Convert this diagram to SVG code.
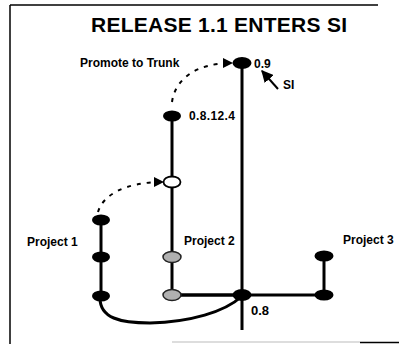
<svg xmlns="http://www.w3.org/2000/svg" width="399" height="344" viewBox="0 0 399 344">
<style>
.lbl{font-family:"Liberation Sans",Arial,sans-serif;font-weight:bold;font-size:12px;fill:#000}
.ttl{font-family:"Liberation Sans",Arial,sans-serif;font-weight:bold;font-size:21px;fill:#000}
.ln{stroke:#000;stroke-width:3;fill:none}
.dash{stroke:#000;stroke-width:2;fill:none;stroke-dasharray:4 6}
.blk{fill:#000}
.gry{fill:#b0b0b0;stroke:#222;stroke-width:1.5}
.hol{fill:#fff;stroke:#000;stroke-width:1.8}
</style>
<defs>
<marker id="ah" viewBox="0 0 10 10" refX="9" refY="5" markerWidth="6" markerHeight="5" orient="auto" markerUnits="strokeWidth">
<path d="M0,0 L10,5 L0,10 z" fill="#000"/>
</marker>
<marker id="ah2" viewBox="0 0 10 10" refX="9" refY="5" markerWidth="6" markerHeight="6" orient="auto" markerUnits="strokeWidth">
<path d="M0,0 L10,5 L0,10 z" fill="#000"/>
</marker>
</defs>
<rect width="399" height="344" fill="#fff"/>
<g id="frame">
<line x1="10" y1="5" x2="378" y2="5" stroke="#000" stroke-width="1.5"/>
<line x1="10" y1="5" x2="10" y2="344" stroke="#000" stroke-width="1.5"/>
<line x1="172" y1="342" x2="360" y2="342" stroke="#bbb" stroke-width="1"/>
<line x1="360" y1="342.5" x2="399" y2="342.5" stroke="#000" stroke-width="1.5"/>
</g>
<text class="ttl" x="219" y="32" text-anchor="middle" textLength="256">RELEASE 1.1 ENTERS SI</text>
<g id="connectors">
<line class="ln" x1="242" y1="63" x2="242" y2="330"/>
<line class="ln" x1="172" y1="116" x2="172" y2="295"/>
<line x1="172" y1="295" x2="242" y2="295" stroke="#000" stroke-width="3.5"/>
<line class="ln" x1="242" y1="295" x2="324" y2="295"/>
<line class="ln" x1="324" y1="256" x2="324" y2="295"/>
<line class="ln" x1="101" y1="220" x2="101" y2="296"/>
<path class="ln" d="M100,298 C100,318 120,323 150,323 C190,322 225,312 242,296"/>
<path class="dash" d="M172,102 C175,80 195,63 232,63" marker-end="url(#ah)"/>
<path class="dash" d="M98,212 C103,195 125,182 163,182" marker-end="url(#ah)"/>
<line x1="278" y1="89" x2="262" y2="71" stroke="#000" stroke-width="2" marker-end="url(#ah2)"/>
</g>
<g id="n09"><ellipse class="blk" cx="242" cy="63" rx="9.5" ry="6"/><text class="lbl" x="254" y="68">0.9</text></g>
<g id="si"><text class="lbl" x="283" y="89">SI</text></g>
<g id="promote"><text class="lbl" x="80" y="67">Promote to Trunk</text></g>
<g id="n08124"><ellipse class="blk" cx="172" cy="116" rx="9" ry="5.5"/><text class="lbl" x="189" y="120" textLength="46">0.8.12.4</text></g>
<g id="nhollow"><ellipse class="hol" cx="172" cy="182" rx="8.5" ry="5.5"/></g>
<g id="np2"><ellipse class="gry" cx="172" cy="257" rx="9" ry="5.5"/><text class="lbl" x="184" y="245">Project 2</text></g>
<g id="np2b"><ellipse class="gry" cx="172" cy="295" rx="9" ry="5.5"/></g>
<g id="n08"><ellipse class="blk" cx="242" cy="295" rx="9.5" ry="6"/><text class="lbl" x="251" y="315" style="font-size:13px">0.8</text></g>
<g id="np3a"><ellipse class="blk" cx="324" cy="256" rx="9.5" ry="5.5"/><text class="lbl" x="343" y="244">Project 3</text></g>
<g id="np3b"><ellipse class="blk" cx="324" cy="295" rx="9.5" ry="5.5"/></g>
<g id="np1a"><ellipse class="blk" cx="101" cy="220" rx="9" ry="5.5"/><text class="lbl" x="27" y="246">Project 1</text></g>
<g id="np1b"><ellipse class="blk" cx="101" cy="257" rx="9" ry="5.5"/></g>
<g id="np1c"><ellipse class="blk" cx="101" cy="296" rx="9" ry="5.5"/></g>
</svg>
